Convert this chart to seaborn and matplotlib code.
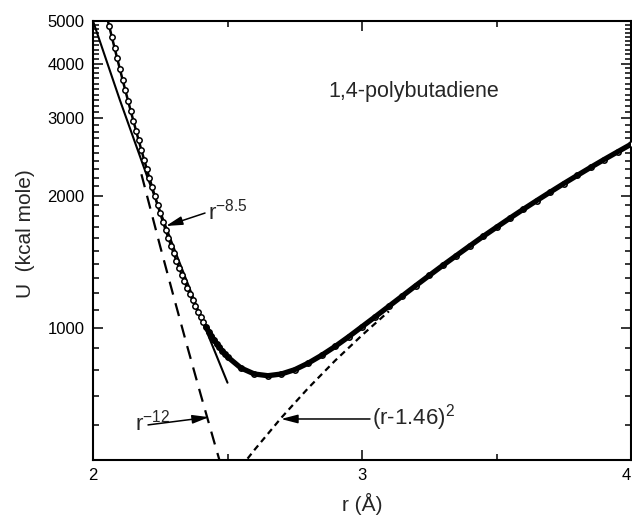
"""
U(r) for 1,4-polybutadiene with r^-8.5, r^-12 and (r-1.46)^2 guides.
"""

import matplotlib
matplotlib.use("Agg")
import matplotlib.pyplot as plt
from matplotlib.ticker import NullFormatter
import seaborn as sns

# main curve (open circles)
r_data = [2.05, 2.06, 2.07, 2.08, 2.09, 2.10, 2.11, 2.12, 2.13, 2.14,
          2.15, 2.16, 2.17, 2.18, 2.19, 2.20, 2.21, 2.22, 2.23, 2.24,
          2.25, 2.26, 2.27, 2.28, 2.29, 2.30, 2.31, 2.32, 2.33, 2.34,
          2.35, 2.36, 2.37, 2.38, 2.39, 2.40, 2.41, 2.42, 2.43, 2.44,
          2.45, 2.46, 2.47, 2.48, 2.49, 2.50, 2.55, 2.60, 2.65, 2.70,
          2.75, 2.80, 2.85, 2.90, 2.95, 3.00, 3.05, 3.10, 3.15, 3.20,
          3.25, 3.30, 3.35, 3.40, 3.45, 3.50, 3.55, 3.60, 3.65, 3.70,
          3.75, 3.80, 3.85, 3.90, 3.95, 4.00]
U_data = [5165, 4873, 4601, 4346, 4108, 3884, 3675, 3479, 3295, 3125,
          2963, 2814, 2672, 2540, 2416, 2300, 2192, 2090, 1996, 1906,
          1822, 1745, 1671, 1603, 1539, 1478, 1422, 1370, 1321, 1276,
          1233, 1193, 1156, 1121, 1089, 1059, 1031, 1005, 981, 959,
          939, 920, 903, 887, 873, 859, 810, 785, 778, 785,
          803, 831, 866, 907, 954, 1006, 1061, 1120, 1182, 1248,
          1316, 1387, 1460, 1536, 1615, 1695, 1778, 1863, 1950, 2039,
          2131, 2224, 2320, 2418, 2517, 2619]

# r^-8.5 fit (solid)
r_85 = [2.0, 2.1, 2.2, 2.3, 2.4, 2.5]
U_85 = [5000, 3302, 2224, 1524, 1061, 750]

# r^-12 (long dashes)
r_12 = [2.18, 2.25, 2.30, 2.35, 2.40, 2.45, 2.48]
U_12 = [2238, 1531, 1177, 909, 706, 551, 476]

# (r-1.46)^2 (short dashes)
r_q = [2.55, 2.60, 2.70, 2.80, 2.90, 3.00, 3.10]
U_q = [482, 527, 624, 729, 842, 962, 1091]

x_major = [2, 3, 4]
x_minor = [2.5, 3.5]
y_major = [1000, 2000, 3000, 4000, 5000]
y_minor = [600, 700, 800, 900] + [v for v in range(1100, 5000, 100) if v % 1000]

sns.set_style("ticks")
plt.rcParams["font.family"] = ["Liberation Sans", "DejaVu Sans"]
plt.rcParams["mathtext.default"] = "regular"

fig = plt.figure(figsize=(6.32, 5.16), dpi=100)
ax = fig.add_axes([93 / 632, 56 / 516, 538 / 632, 439 / 516])
ax.set_yscale("log")

sns.lineplot(x=r_85, y=U_85, ax=ax, color="k", lw=1.5, sort=False)
sns.lineplot(x=r_12, y=U_12, ax=ax, color="k", lw=1.6, sort=False).lines[-1].set_dashes((6, 4))
sns.lineplot(x=r_q, y=U_q, ax=ax, color="k", lw=1.6, sort=False).lines[-1].set_dashes((2.8, 2.0))

# open circles, joined underneath so the dense chain reads as one band
sns.lineplot(x=r_data, y=U_data, ax=ax, color="k", lw=1.8, sort=False)
sns.scatterplot(x=r_data, y=U_data, ax=ax, s=15, marker="o", facecolor="white",
                edgecolor="k", linewidth=1.1, zorder=3)
# flat part is so dense in the original that it prints as solid black
flat = sum(r >= 2.42 for r in r_data)
sns.lineplot(x=r_data[-flat:], y=U_data[-flat:], ax=ax, color="k", lw=3.8,
             sort=False, zorder=4)

ax.set_xlim(2, 4)
ax.set_ylim(500, 5000)

ax.set_xticks(x_major, labels=[str(v) for v in x_major])
ax.set_xticks(x_minor, minor=True)
ax.get_xticklabels()[-1].set_horizontalalignment("right")
ax.set_yticks(y_major, labels=[str(v) for v in y_major])
ax.set_yticks(y_minor, minor=True)
ax.yaxis.set_minor_formatter(NullFormatter())

ax.tick_params(which="both", direction="in", top=True, right=True,
               width=1.1, labelsize=12, colors="k")
ax.tick_params(which="major", length=7, pad=6)
ax.tick_params(which="minor", length=4.5)
for s in ax.spines.values():
    s.set_linewidth(1.5)
    s.set_color("k")

ax.set_xlabel("r (Å)", fontsize=15)
ax.set_ylabel("U  (kcal mole)", fontsize=15)
ax.xaxis.set_label_coords(0.5, -0.075)
ax.yaxis.set_label_coords(-0.108, 0.515)

ax.text(0.437, 0.827, "1,4-polybutadiene", transform=ax.transAxes,
        fontsize=15.5, ha="left", va="baseline")

arrow = dict(arrowstyle="-|>,head_length=0.5,head_width=0.13", color="k",
             lw=1.1, shrinkA=0, shrinkB=0, mutation_scale=20)

ax.text(2.4275, 1761, "r$^{-8.5}$", fontsize=16, ha="left", va="baseline")
ax.annotate("", xy=(2.271, 1706), xytext=(2.4164, 1826), arrowprops=arrow)

ax.text(2.156, 585, "r$^{-12}$", fontsize=16, ha="left", va="baseline")
ax.annotate("", xy=(2.4312, 626), xytext=(2.2045, 601), arrowprops=arrow)

ax.text(3.037, 601, "(r-1.46)$^{2}$", fontsize=16, ha="left", va="baseline")
ax.annotate("", xy=(2.699, 620), xytext=(3.0297, 620), arrowprops=arrow)

fig.savefig("out.png", dpi=100)
plt.close(fig)
